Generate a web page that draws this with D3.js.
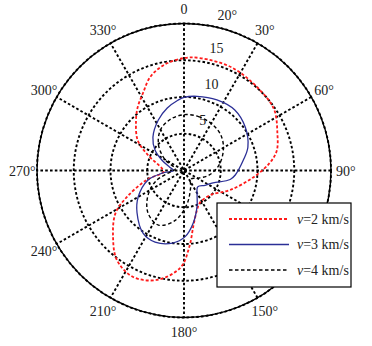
<!DOCTYPE html>
<html><head><meta charset="utf-8">
<script src="https://cdn.jsdelivr.net/npm/d3@7"></script>
<style>body{margin:0;background:#fff}svg{display:block}</style>
</head><body>
<svg id="c" width="372" height="346"></svg>
<script>
// ---- data ----
const radialTicks = [5, 10, 15];
const radialMax = 20;
const angleTicks = [0, 30, 60, 90, 120, 150, 180, 210, 240, 270, 300, 330];
// angles whose labels are visible (120° is hidden behind the legend in the original)
const labelAngles = [0, 15.5, 30, 60, 90, 150, 180, 210, 240, 270, 300, 330];
const labelTexts = ["0", "20°", "30°", "60°", "90°", "150°", "180°", "210°", "240°", "270°", "300°", "330°"];

const seriesNames = ["v=2 km/s", "v=3 km/s", "v=4 km/s"];

const redAngles = [0, 8, 25, 43, 56, 68, 78, 85, 96, 113, 133, 154, 162, 170, 176, 182, 194, 206, 217, 227, 238, 245, 256, 266, 275, 293, 303, 316, 324, 332, 340, 349];
const redValues = [15.3, 15.45, 15.45, 15.06, 14.8, 13.7, 12.9, 11.7, 9.4, 6.8, 4.9, 4.9, 5.7, 7.5, 10.4, 13.2, 15.35, 16.05, 15.2, 13.2, 11.0, 8.6, 5.2, 2.8, 3.0, 5.3, 7.5, 9.4, 10.7, 11.9, 13.5, 14.6];

const blueAngles = [0, 10, 25, 40, 55, 70, 80, 95, 101, 113, 125, 140, 152, 160, 170, 179, 189, 202, 213, 228, 240, 255, 263, 270, 283, 295, 305, 317, 333, 345, 355];
const blueValues = [9.95, 10.25, 10.6, 10.75, 10.2, 9.25, 8.2, 7.0, 6.4, 4.3, 3.5, 2.9, 3.8, 5.2, 7.25, 9.0, 10.0, 10.5, 10.2, 8.6, 7.2, 5.1, 3.0, 1.4, 2.0, 3.3, 4.8, 6.2, 7.7, 8.8, 9.6];

const blackAngles = [0, 15, 30, 45, 60, 80, 100, 120, 140, 160, 175, 190, 205, 220, 235, 250, 265, 280, 300, 315, 330, 345];
const blackValues = [7.6, 7.6, 7.4, 7.0, 6.2, 4.9, 3.5, 2.1, 1.5, 2.6, 4.6, 6.9, 8.2, 7.6, 6.0, 4.0, 1.8, 1.2, 3.0, 4.9, 6.4, 7.2];

// ---- drawing ----
const svg = d3.select("#c");
svg.append("rect").attr("width", 372).attr("height", 346).attr("fill", "#fff");
const cx = 184, cy = 170.5, R = 147;
const r = d3.scaleLinear().domain([0, radialMax]).range([0, R]);
const ang = d3.scaleLinear().domain([0, 360]).range([0, 2 * Math.PI]);
const px = (a, v) => cx + r(v) * Math.sin(ang(a));
const py = (a, v) => cy - r(v) * Math.cos(ang(a));

const g = svg.append("g");
const font = "'Liberation Serif','Times New Roman',serif";

// grid circles
g.selectAll("circle.grid").data(radialTicks.concat([radialMax])).join("circle")
  .attr("cx", cx).attr("cy", cy).attr("r", d => r(d))
  .attr("fill", "none").attr("stroke", "#000").attr("stroke-width", 1.9)
  .attr("stroke-dasharray", "2.6,2.2");
// spokes
g.selectAll("line.spoke").data(angleTicks.filter(a => a < 180)).join("line")
  .attr("x1", a => px(a, radialMax)).attr("y1", a => py(a, radialMax))
  .attr("x2", a => px(a + 180, radialMax)).attr("y2", a => py(a + 180, radialMax))
  .attr("stroke", "#000").attr("stroke-width", 1.9).attr("stroke-dasharray", "2.6,2.2");
// outer solid circle
g.append("circle").attr("cx", cx).attr("cy", cy).attr("r", r(radialMax))
  .attr("fill", "none").attr("stroke", "#000").attr("stroke-width", 1.4);

// radial labels
g.selectAll("text.rl").data(radialTicks).join("text")
  .attr("x", d => px(8, d + 0.25) + 10).attr("y", d => py(8, d + 0.25) - 7)
  .attr("font-family", font).attr("font-size", 14).attr("fill", "#222")
  .text(d => d);

// angle labels
const lab = labelAngles.map((a, i) => ({a, t: labelTexts[i]}));
g.selectAll("text.al").data(lab).join("text")
  .attr("x", d => px(d.a, radialMax * 1.1)).attr("y", d => py(d.a, radialMax * 1.1) + 5)
  .attr("text-anchor", "middle")
  .attr("font-family", font).attr("font-size", 14).attr("fill", "#222")
  .text(d => d.t);

// curves
const line = d3.lineRadial().angle(d => ang(d[0])).radius(d => r(d[1])).curve(d3.curveCatmullRomClosed.alpha(0.5));
const series = [
  {a: redAngles, v: redValues, color: "#ff1a1a", w: 1.8, dash: "3,2"},
  {a: blueAngles, v: blueValues, color: "#2b2f96", w: 1.3, dash: null},
  {a: blackAngles, v: blackValues, color: "#000", w: 1.4, dash: "3.5,2.5"}
];
const cg = svg.append("g").attr("transform", `translate(${cx},${cy})`);
series.forEach(s => {
  cg.append("path").attr("d", line(s.a.map((a, i) => [a, s.v[i]])))
    .attr("fill", "none").attr("stroke", s.color).attr("stroke-width", s.w)
    .attr("stroke-dasharray", s.dash);
});

// legend
const lg = svg.append("g").attr("transform", "translate(217,203)");
lg.append("rect").attr("width", 134).attr("height", 84).attr("fill", "#fff")
  .attr("stroke", "#000").attr("stroke-width", 1.2);
series.forEach((s, i) => {
  const y = 16 + i * 25.5;
  lg.append("line").attr("x1", 12).attr("x2", 72).attr("y1", y).attr("y2", y)
    .attr("stroke", s.color).attr("stroke-width", s.w).attr("stroke-dasharray", s.dash);
  const t = lg.append("text").attr("x", 80).attr("y", y + 4.5)
    .attr("font-family", font).attr("font-size", 14).attr("fill", "#222");
  t.append("tspan").attr("font-style", "italic").text(seriesNames[i].charAt(0));
  t.append("tspan").text(seriesNames[i].slice(1));
});
</script>
</body></html>
